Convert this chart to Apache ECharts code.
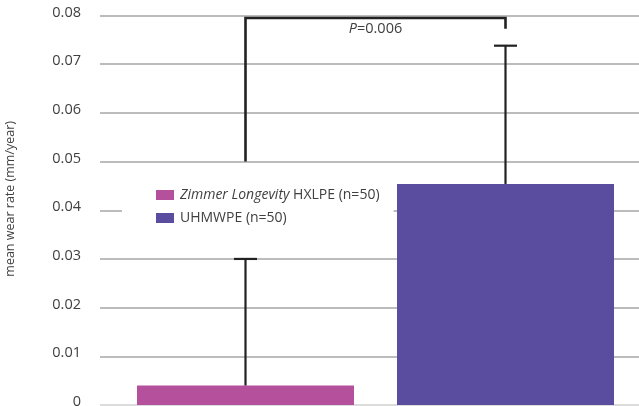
<!DOCTYPE html>
<html>
<head>
<meta charset="utf-8">
<script src="https://cdn.jsdelivr.net/npm/echarts@6/dist/echarts.min.js"></script>
<style>
  html, body { margin: 0; padding: 0; background: #fff; }
  #chart { width: 639px; height: 406px; }
</style>
</head>
<body>
<div id="chart"></div>
<script>
// Mean wear rate per liner group, with the upper standard-deviation whisker
const groups = ['Zimmer Longevity HXLPE (n=50)', 'UHMWPE (n=50)'];
const meanWear = [0.004, 0.0454];
const wearSD = [0.026, 0.0284];
const barColors = ['#b4509c', '#5a4c9e'];

// Value axis ticks
const yMin = 0;
const yMax = 0.08;
const yStep = 0.01;
const yTitle = 'mean wear rate (mm/year)';

// Significance bracket between the two groups
const pLabel = '{i|P}=0.006';
const bracketTop = 0.0795;
const bracketLegEnds = [0.05, 0.0773];

const FONT = '"Open Sans", "Noto Sans", sans-serif';
const TEXT = '#404040';

const chart = echarts.init(document.getElementById('chart'), null, { renderer: 'canvas' });

const barSeries = groups.map((name, i) => ({
  name: name,
  type: 'bar',
  xAxisIndex: 1,
  yAxisIndex: 1,
  barWidth: 217,
  barGap: '-100%',
  itemStyle: { color: barColors[i] },
  data: meanWear.map((v, j) => (j === i ? v : '-')),
  z: 2
}));

const errorSeries = {
  type: 'custom',
  xAxisIndex: 1,
  yAxisIndex: 1,
  silent: true,
  z: 3,
  data: meanWear.map((m, i) => [i, m, m + wearSD[i]]),
  renderItem: function (params, api) {
    const base = api.coord([api.value(0), api.value(1)]);
    const top = api.coord([api.value(0), api.value(2)]);
    const half = 11.5;
    const style = { stroke: '#222', lineWidth: 2.2 };
    return {
      type: 'group',
      children: [
        { type: 'line', shape: { x1: top[0], y1: base[1], x2: top[0], y2: top[1] }, style: style },
        { type: 'line', shape: { x1: top[0] - half, y1: top[1], x2: top[0] + half, y2: top[1] }, style: style }
      ]
    };
  }
};

const bracketSeries = {
  type: 'custom',
  xAxisIndex: 1,
  yAxisIndex: 1,
  silent: true,
  z: 3,
  data: [[0, 1, bracketTop, bracketLegEnds[0], bracketLegEnds[1]]],
  renderItem: function (params, api) {
    const a = api.coord([api.value(0), api.value(3)]);
    const tl = api.coord([api.value(0), api.value(2)]);
    const tr = api.coord([api.value(1), api.value(2)]);
    const b = api.coord([api.value(1), api.value(4)]);
    return {
      type: 'group',
      children: [
        {
          type: 'polyline',
          shape: { points: [a, tl, tr, b] },
          style: { stroke: '#222', lineWidth: 2.6, fill: null, lineJoin: 'miter' }
        },
        {
          type: 'text',
          style: {
            text: pLabel,
            x: (tl[0] + tr[0]) / 2,
            y: tl[1] + 11,
            align: 'center',
            verticalAlign: 'middle',
            fill: TEXT,
            font: '14.5px ' + FONT,
            rich: {
              i: { fontStyle: 'italic', fontSize: 14.5, fontFamily: FONT, fill: TEXT }
            }
          }
        }
      ]
    };
  }
};

const option = {
  backgroundColor: '#ffffff',
  animation: false,
  textStyle: { fontFamily: FONT, color: TEXT },
  grid: [
    { left: 100, right: 0, top: 15.5, bottom: 1, containLabel: false, outerBoundsMode: 'none' },
    { left: 115.5, right: 3.5, top: 15.5, bottom: 1, containLabel: false, outerBoundsMode: 'none' }
  ],
  xAxis: [
    { type: 'category', gridIndex: 0, data: groups, show: false },
    {
      type: 'category', gridIndex: 1, data: groups,
      axisLine: { show: false }, axisTick: { show: false }, axisLabel: { show: false }
    }
  ],
  yAxis: [
    {
      type: 'value', gridIndex: 0, min: yMin, max: yMax, interval: yStep,
      axisLine: { show: false }, axisTick: { show: false },
      axisLabel: {
        margin: 19, fontSize: 14.5, color: TEXT, fontFamily: FONT,
        verticalAlign: 'bottom', lineHeight: 6
      },
      splitLine: {
        lineStyle: {
          width: 1.5,
          color: ['#d0d0d0', '#a6a6a6', '#a6a6a6', '#a6a6a6', '#a6a6a6', '#a6a6a6', '#a6a6a6', '#a6a6a6', '#a6a6a6']
        }
      }
    },
    {
      type: 'value', gridIndex: 1, min: yMin, max: yMax, interval: yStep,
      show: false, splitLine: { show: false }
    }
  ],
  legend: {
    orient: 'vertical',
    left: 122,
    top: 176,
    padding: [12, 14, 13, 34],
    backgroundColor: '#ffffff',
    itemWidth: 18,
    itemHeight: 10,
    itemGap: 9,
    icon: 'rect',
    data: groups,
    formatter: function (name) {
      return name.replace('Zimmer Longevity', '{i|Zimmer Longevity}');
    },
    textStyle: {
      fontSize: 14,
      color: TEXT,
      fontFamily: FONT,
      padding: [0, 0, 0, 1],
      rich: {
        i: { fontStyle: 'italic', fontSize: 14, color: TEXT, fontFamily: FONT }
      }
    },
    z: 5
  },
  graphic: [
    {
      type: 'text',
      left: 4,
      top: 121,
      rotation: Math.PI / 2,
      style: {
        text: yTitle,
        fill: TEXT,
        font: '12.5px ' + FONT
      }
    }
  ],
  series: barSeries.concat([errorSeries, bracketSeries])
};

chart.setOption(option);
</script>
</body>
</html>
